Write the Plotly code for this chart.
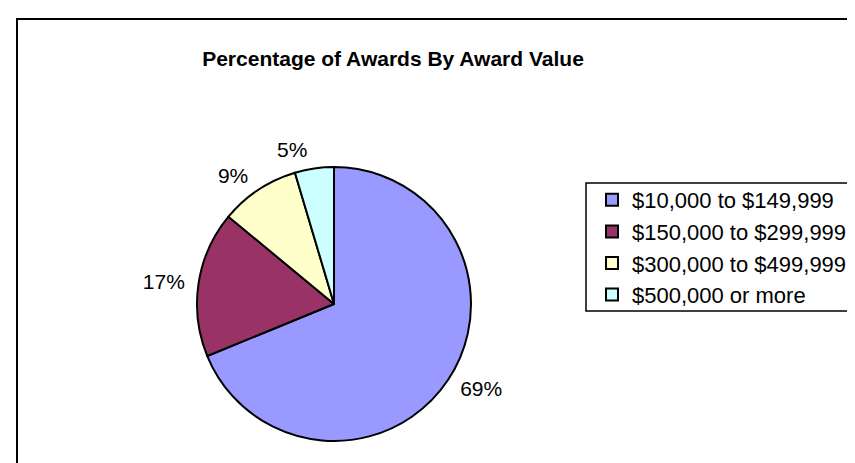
import plotly.graph_objects as go

categories = ["$10,000 to $149,999", "$150,000 to $299,999", "$300,000 to $499,999", "$500,000 or more"]
shares = [68.8, 17.2, 9.4, 4.6]
colors = ["#9999FF", "#993366", "#FFFFCC", "#CCFFFF"]
title_text = "Percentage of Awards By Award Value"

W, H = 855, 463
cx, cy, r = 326, 296, 137
r_lab = 145  # radius of the (invisible) ring used to place outside labels

FONT = "Liberation Sans, Arial"


def dom(rad):
    return dict(x=[(cx - rad) / W, (cx + rad) / W], y=[(H - cy - rad) / H, (H - cy + rad) / H])


# invisible ring: only carries the percentage labels a bit further out (like Excel)
label_ring = go.Pie(
    labels=categories,
    values=shares,
    sort=False,
    direction="clockwise",
    rotation=0,
    marker=dict(colors=["rgba(0,0,0,0)"] * len(categories), line=dict(width=0)),
    texttemplate="%{percent:.0%}",
    textposition="outside",
    textfont=dict(family=FONT, size=21, color="black"),
    domain=dom(r_lab),
    showlegend=False,
    hoverinfo="skip",
)

main_pie = go.Pie(
    labels=categories,
    values=shares,
    sort=False,
    direction="clockwise",
    rotation=0,
    marker=dict(colors=colors, line=dict(color="black", width=2)),
    textinfo="none",
    domain=dom(r),
    hoverinfo="label+percent",
)

fig = go.Figure([label_ring, main_pie])

fig.update_layout(
    width=W, height=H,
    margin=dict(l=0, r=0, t=0, b=0),
    paper_bgcolor="white",
    plot_bgcolor="white",
    title=dict(text="<b>" + title_text + "</b>", x=385 / W, xanchor="center",
               y=1 - 51 / H, yanchor="middle",
               font=dict(family=FONT, size=21, color="black")),
    legend=dict(x=584 / W, y=1 - 171 / H, xanchor="left", yanchor="top",
                borderwidth=0, bgcolor="rgba(0,0,0,0)",
                itemwidth=30,
                font=dict(family=FONT, size=22, color="black")),
    shapes=[
        # chart area border (cropped on the right and bottom)
        dict(type="rect", xref="paper", yref="paper",
             x0=9 / W, y0=-0.05, x1=1.05, y1=1 - 11 / H,
             line=dict(color="black", width=2)),
        # legend box (cropped on the right)
        dict(type="rect", xref="paper", yref="paper",
             x0=578 / W, y0=1 - 303 / H, x1=1.05, y1=1 - 175 / H,
             line=dict(color="black", width=1.5), layer="below"),
    ],
)

fig.write_html("out.html")
